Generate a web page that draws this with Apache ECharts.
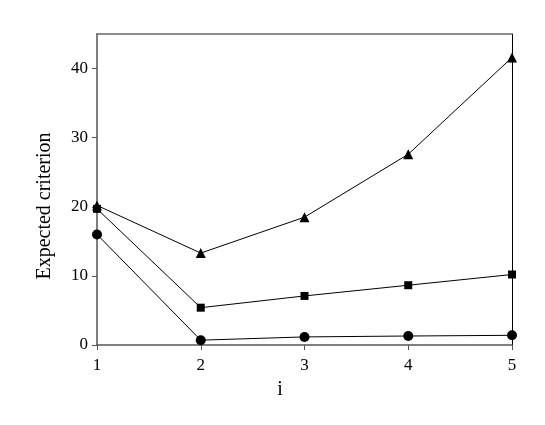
<!DOCTYPE html>
<html><head><meta charset="utf-8">
<script src="https://cdn.jsdelivr.net/npm/echarts@6/dist/echarts.min.js"></script>
<style>html,body{margin:0;padding:0;background:#fff}#c{width:545px;height:425px}</style>
</head><body><div id="c"></div>
<script>
const xValues = [1, 2, 3, 4, 5];
const triangleSeries = [20.2, 13.3, 18.5, 27.6, 41.6];
const squareSeries = [19.7, 5.4, 7.1, 8.65, 10.2];
const circleSeries = [16.0, 0.7, 1.17, 1.3, 1.4];
const yTicks = [0, 10, 20, 30, 40];
const yTitle = 'Expected criterion';
const xTitle = 'i';

const font = '"Liberation Serif", "Times New Roman", serif';
const pair = arr => xValues.map((x, i) => [x, arr[i]]);
const mk = (name, data, symbol, size) => ({
  name, type: 'line', data: pair(data), symbol, symbolSize: size,
  lineStyle: { color: '#000', width: 1 }, itemStyle: { color: '#000' },
  showAllSymbol: true, animation: false, clip: false
});

const chart = echarts.init(document.getElementById('c'), null, { renderer: 'canvas' });
chart.setOption({
  animation: false,
  grid: { left: 97, right: 33, top: 34, bottom: 80, containLabel: false },
  graphic: [{
    type: 'text', x: 44.5, y: 206, rotation: Math.PI / 2,
    style: { text: yTitle, font: '20px "Liberation Serif", serif', fill: '#000',
      align: 'center', verticalAlign: 'middle' }
  }, {
    type: 'text', x: 280, y: 390,
    style: { text: xTitle, font: '20px "Liberation Serif", serif', fill: '#000',
      align: 'center', verticalAlign: 'middle' }
  }],
  xAxis: [{
    type: 'value', min: 1, max: 5, interval: 1,
    axisLine: { show: true, onZero: false, lineStyle: { color: '#555', width: 1.5 } },
    axisTick: { show: true, length: 5, lineStyle: { color: '#555' } },
    axisLabel: { fontFamily: font, fontSize: 17, color: '#000', margin: 12 },
    splitLine: { show: false }
  }, {
    type: 'value', min: 1, max: 5, position: 'top',
    axisLine: { show: true, onZero: false, lineStyle: { color: '#666', width: 1.5 } },
    axisTick: { show: false }, axisLabel: { show: false }, splitLine: { show: false }
  }],
  yAxis: [{
    type: 'value', min: 0, max: 45, interval: 10,
    axisLine: { show: true, onZero: false, lineStyle: { color: '#555', width: 1.5 } },
    axisTick: { show: true, length: 5, lineStyle: { color: '#555' } },
    axisLabel: { fontFamily: font, fontSize: 17, color: '#000', margin: 9,
      showMaxLabel: false,
      formatter: v => yTicks.includes(v) ? String(v) : '' },
    splitLine: { show: false }
  }, {
    type: 'value', min: 0, max: 45, position: 'right',
    axisLine: { show: true, onZero: false, lineStyle: { color: '#000', width: 1 } },
    axisTick: { show: false }, axisLabel: { show: false }, splitLine: { show: false }
  }],
  series: [
    mk('triangle', triangleSeries, 'triangle', 10),
    mk('square', squareSeries, 'rect', 8),
    mk('circle', circleSeries, 'circle', 10)
  ]
});
</script></body></html>
